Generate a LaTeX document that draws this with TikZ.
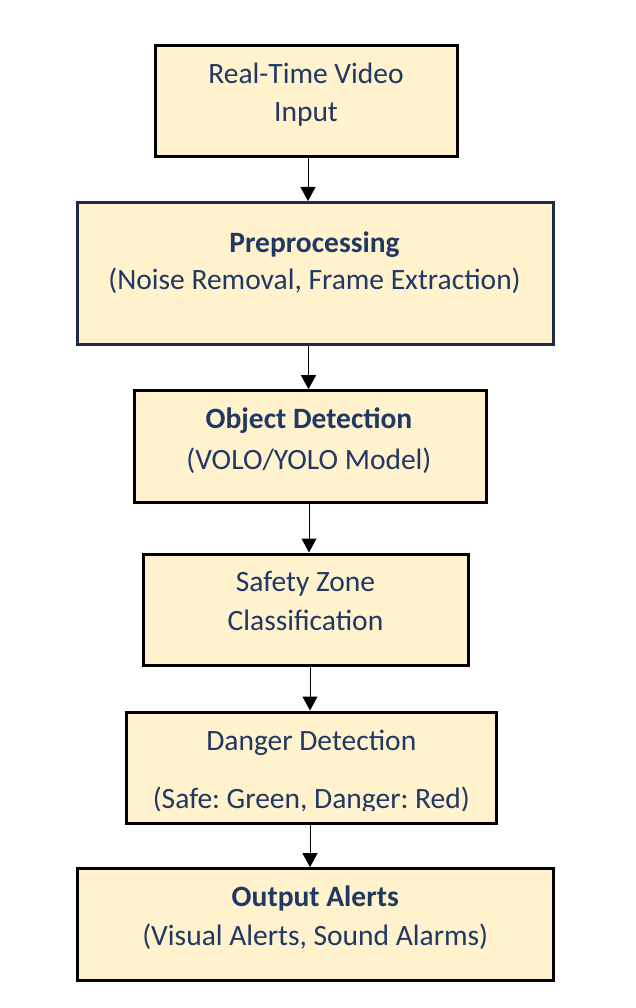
\documentclass[tikz,border=0pt]{standalone}
\usepackage{fontspec}
\setmainfont{Carlito}
\frenchspacing
\usetikzlibrary{arrows.meta}
\definecolor{boxfill}{HTML}{FFF2CC}
\definecolor{navy}{HTML}{1F3864}
\definecolor{navyline}{HTML}{1B2A48}
\tikzset{
  box/.style={draw=black, line width=3pt, fill=boxfill, rectangle, inner sep=0pt},
  txt/.style={anchor=base, inner sep=0pt, text=navy, font=\fontsize{29.5}{35}\selectfont},
  btxt/.style={txt, font=\fontsize{29.5}{35}\selectfont\bfseries},
  arr/.style={draw=black, line width=1pt, -{Triangle[width=15pt,length=14pt]}}
}
\begin{document}
\begin{tikzpicture}[x=1pt,y=-1pt]
\useasboundingbox (0,0) rectangle (635,1008);
% boxes
\node[box, minimum width=301.5pt, minimum height=111pt] (b1) at (306.25,101.5) {};
\node[box, draw=navyline, minimum width=475.5pt, minimum height=141.5pt] (b2) at (315.25,273.25) {};
\node[box, minimum width=352.5pt, minimum height=111.3pt] (b3) at (310.25,446.35) {};
\node[box, minimum width=325pt, minimum height=111.3pt] (b4) at (305.5,609.65) {};
\node[box, minimum width=370.5pt, minimum height=111pt] (b5) at (311.25,767.5) {};
\node[box, minimum width=475.5pt, minimum height=111.3pt] (b6) at (315.25,924.35) {};
% texts
\node[txt] (t1a) at (306,84) {Real-Time Video};
\node[txt] (t1b) at (306,122) {Input};
\node[btxt] (t2a) at (314.5,252) {Preprocessing};
\node[txt] (t2b) at (314.5,289) {(Noise Removal, Frame Extraction)};
\node[btxt] (t3a) at (309,428) {Object Detection};
\node[txt] (t3b) at (309,469) {(VOLO/YOLO Model)};
\node[txt] (t4a) at (305.5,591.5) {Safety Zone};
\node[txt] (t4b) at (305.5,630.5) {Classification};
\node[txt] (t5a) at (311.25,750) {Danger Detection};
\begin{scope}
\clip (130,715) rectangle (492,810);
\node[txt] (t5b) at (311.25,808) {(Safe: Green, Danger: Red)};
\end{scope}
\node[btxt] (t6a) at (315.25,906) {Output Alerts};
\node[txt] (t6b) at (315.25,945) {(Visual Alerts, Sound Alarms)};
% arrows
\coordinate (x1) at (308,0);
\coordinate (x2) at (308.5,0);
\coordinate (x3) at (309,0);
\coordinate (x4) at (310,0);
\coordinate (x5) at (310,0);
\draw[arr] (b1.south -| x1) -- (b2.north -| x1);
\draw[arr] (b2.south -| x2) -- (b3.north -| x2);
\draw[arr] (b3.south -| x3) -- (b4.north -| x3);
\draw[arr] (b4.south -| x4) -- (b5.north -| x4);
\draw[arr] (b5.south -| x5) -- (b6.north -| x5);
\end{tikzpicture}
\end{document}
